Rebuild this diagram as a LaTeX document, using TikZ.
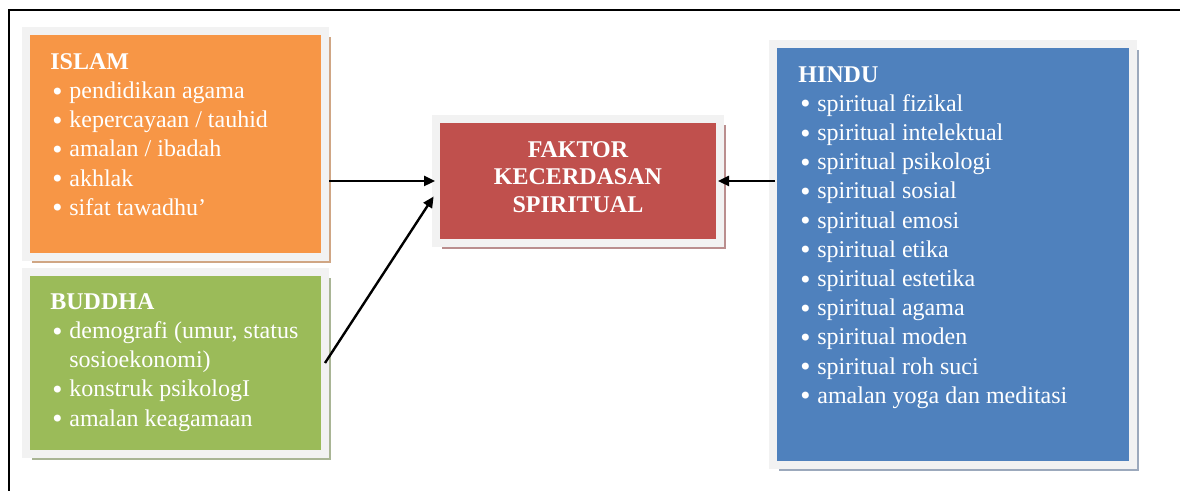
\documentclass[tikz,border=0pt]{standalone}
\usepackage{fontspec}
\setmainfont{Liberation Serif}
\newfontfamily\bulletfont{DejaVu Sans}
\usetikzlibrary{arrows.meta,shadows}

\definecolor{framegray}{HTML}{F2F2F2}
\definecolor{islamfill}{HTML}{F79646}
\definecolor{islamshade}{HTML}{D0A684}
\definecolor{buddhafill}{HTML}{9BBB59}
\definecolor{buddhashade}{HTML}{A9B595}
\definecolor{faktorfill}{HTML}{C0504D}
\definecolor{faktorshade}{HTML}{BA8E8E}
\definecolor{hindufill}{HTML}{4F81BD}
\definecolor{hindushade}{HTML}{9CA9BC}

\newcommand{\itm}[1]{\makebox[9.5pt][l]{\raisebox{-0.8pt}{\bulletfont •}}#1}

\begin{document}
\begin{tikzpicture}[
      x=0.5pt, y=-0.5pt,
      box/.style={draw=framegray, line width=4pt, rectangle, anchor=north west,
                  inner sep=0pt},
      islambox/.style={box, fill=islamfill, minimum width=149.5pt, minimum height=113pt,
                  general shadow={fill=islamshade, shadow xshift=3pt, shadow yshift=-3pt}},
      buddhabox/.style={box, fill=buddhafill, minimum width=149.5pt, minimum height=91pt,
                  general shadow={fill=buddhashade, shadow xshift=3pt, shadow yshift=-3pt}},
      faktorbox/.style={box, fill=faktorfill, minimum width=142pt, minimum height=62pt,
                  general shadow={fill=faktorshade, shadow xshift=3pt, shadow yshift=-3pt}},
      hindubox/.style={box, fill=hindufill, minimum width=180pt, minimum height=210.5pt,
                  general shadow={fill=hindushade, shadow xshift=3pt, shadow yshift=-3pt}},
      list/.style={anchor=north west, inner sep=0pt, align=left, text=white,
                   font=\fontsize{12}{14.6}\selectfont},
      title/.style={inner sep=0pt, align=center, text=white,
                    font=\fontsize{12}{13.8}\selectfont\bfseries},
      arrow/.style={-{Triangle[length=5.5pt, width=5pt]}, line width=1.2pt},
    ]
    \useasboundingbox (0,0) rectangle (1180,491);

    % outer frame
    \draw[line width=0.9pt] (9,491) -- (9,10) -- (1180,10);

    % ---- boxes ----
    \node[islambox] (islam) at (22,27) {};
    \node[buddhabox] (buddha) at (22,268) {};
    \node[faktorbox] (faktor) at (432,115) {};
    \node[hindubox] (hindu) at (769,40) {};

    % ---- texts ----
    \node[list] (islamtxt) at ([shift={(28,26)}]islam.north west)
      {\textbf{ISLAM}\\
       \itm{pendidikan agama}\\
       \itm{kepercayaan / tauhid}\\
       \itm{amalan / ibadah}\\
       \itm{akhlak}\\
       \itm{sifat tawadhu’}};
    \node[list] (buddhatxt) at ([shift={(28,25)}]buddha.north west)
      {\textbf{BUDDHA}\\
       \itm{demografi (umur, status}\\
       \hspace*{9.5pt}sosioekonomi)\\
       \itm{konstruk psikologI}\\
       \itm{amalan keagamaan}};
    \node[title] (faktortxt) at ([yshift=2pt]faktor.center)
      {FAKTOR\\KECERDASAN\\SPIRITUAL};
    \node[list] (hindutxt) at ([shift={(29,26)}]hindu.north west)
      {\textbf{HINDU}\\
       \itm{spiritual fizikal}\\
       \itm{spiritual intelektual}\\
       \itm{spiritual psikologi}\\
       \itm{spiritual sosial}\\
       \itm{spiritual emosi}\\
       \itm{spiritual etika}\\
       \itm{spiritual estetika}\\
       \itm{spiritual agama}\\
       \itm{spiritual moden}\\
       \itm{spiritual roh suci}\\
       \itm{amalan yoga dan meditasi}};

    % ---- arrows ----
    \draw[arrow, shorten >=-1.5pt] (islam.east |- faktor.west) -- (faktor.west);
    \draw[arrow, shorten >=-1.5pt] ([xshift=-2pt]buddha.east) -- ([yshift=-9pt]faktor.west);
    \draw[arrow, shorten >=-3pt] ([xshift=3pt]hindu.west |- faktor.east) -- (faktor.east);
  \end{tikzpicture}
\end{document}
